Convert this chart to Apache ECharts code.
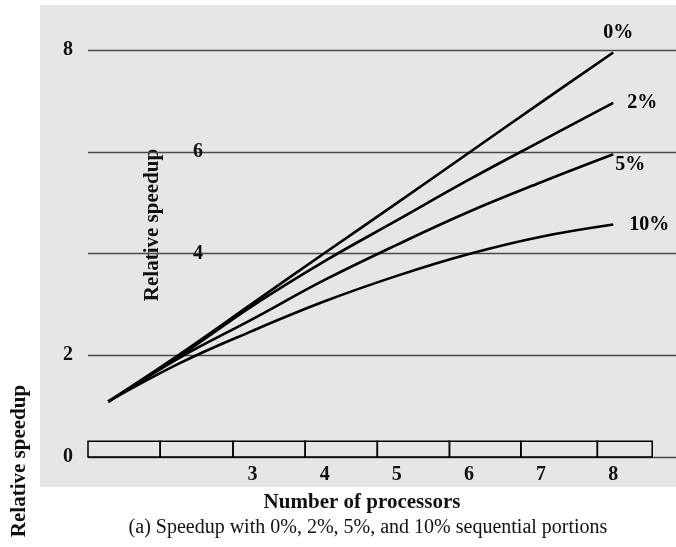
<!DOCTYPE html>
<html><head><meta charset="utf-8">
<script src="https://cdn.jsdelivr.net/npm/echarts@6/dist/echarts.min.js"></script>
<style>html,body{margin:0;padding:0;background:#fff}#c{width:676px;height:547px}</style>
</head><body><div id="c"></div>
<script>
// ---- data ----
const processors = [1, 2, 3, 4, 5, 6, 7, 8];
const xTickLabels = [3, 4, 5, 6, 7, 8];
const yTickLabelsOuter = [0, 2, 8];
const yTickLabelsInner = [4, 6];
const seriesNames = ['0%', '2%', '5%', '10%'];
const speedup0 = [1.09, 2.03, 3.02, 4.01, 4.99, 5.98, 6.97, 7.95];
const speedup2 = [1.09, 1.99, 2.97, 3.85, 4.65, 5.45, 6.21, 6.96];
const speedup5 = [1.09, 1.96, 2.71, 3.48, 4.17, 4.82, 5.40, 5.95];
const speedup10 = [1.09, 1.85, 2.48, 3.06, 3.56, 3.99, 4.33, 4.57];
const boxEdges = [0.72, 1.72, 2.73, 3.73, 4.73, 5.73, 6.72, 7.78, 8.54];
const boxTop = 0.31;
const yAxisTitle = 'Relative speedup';
const xAxisTitle = 'Number of processors';
const caption = '(a) Speedup with 0%, 2%, 5%, and 10% sequential portions';

// ---- chart ----
const FONT = '"Liberation Serif", "Times New Roman", serif';
const chart = echarts.init(document.getElementById('c'), null, {renderer: 'canvas'});
const allSeries = [speedup0, speedup2, speedup5, speedup10];
const labelPlace = [
  {align: 'center', distance: 5, offset: [0, -20]},
  {align: 'left', distance: 14, offset: [0, 0]},
  {align: 'left', distance: 2, offset: [0, 11]},
  {align: 'left', distance: 16, offset: [0, 0]}
];
const lineSeries = allSeries.map((arr, k) => ({
  name: seriesNames[k],
  type: 'line',
  data: processors.map((p, i) => [p, arr[i]]),
  showSymbol: false,
  smooth: 0.4,
  z: 3,
  lineStyle: {color: '#000', width: 2.6},
  endLabel: {
    show: true,
    formatter: seriesNames[k],
    color: '#000',
    fontFamily: FONT,
    fontWeight: 'bold',
    fontSize: 20,
    verticalAlign: 'middle',
    align: labelPlace[k].align,
    distance: labelPlace[k].distance,
    offset: labelPlace[k].offset
  }
}));
const cells = boxEdges.slice(0, -1).map((e, i) => [e, boxEdges[i + 1], boxTop]);
const boxSeries = {
  type: 'custom',
  data: cells,
  encode: {x: [0, 1], y: 2},
  clip: false,
  z: 4,
  renderItem: (params, api) => {
    const a = api.coord([api.value(0), api.value(2)]);
    const b = api.coord([api.value(1), 0]);
    return {type: 'rect', shape: {x: a[0], y: a[1], width: b[0] - a[0], height: b[1] - a[1]},
      style: {fill: 'none', stroke: '#000', lineWidth: 1.5}};
  }
};
const tickFont = {fontFamily: FONT, fontWeight: 'bold', fontSize: 20, color: '#111'};
chart.setOption({
  animation: false,
  backgroundColor: '#fff',
  graphic: [
    {type: 'rect', z: -100, shape: {x: 40, y: 5, width: 636, height: 482}, style: {fill: '#e6e6e6'}},
    {type: 'text', x: 20, y: 461, rotation: Math.PI / 2,
      style: {text: yAxisTitle, font: 'bold 21px ' + FONT, fill: '#111', align: 'center', verticalAlign: 'middle'}},
    {type: 'text', x: 153, y: 225, rotation: Math.PI / 2,
      style: {text: yAxisTitle, font: 'bold 21px ' + FONT, fill: '#111', align: 'center', verticalAlign: 'middle'}},
    {type: 'text', x: 362, y: 503,
      style: {text: xAxisTitle, font: 'bold 21px ' + FONT, fill: '#111', align: 'center', verticalAlign: 'middle'}},
    {type: 'text', x: 368, y: 528,
      style: {text: caption, font: '20px ' + FONT, fill: '#111', align: 'center', verticalAlign: 'middle'}}
  ],
  grid: {left: 88, right: 0, top: 50, bottom: 90, containLabel: false},
  xAxis: {
    type: 'value', min: 0.72, max: 8.87,
    axisLine: {show: false}, axisTick: {show: false}, splitLine: {show: false},
    axisLabel: Object.assign({customValues: xTickLabels, margin: 8}, tickFont)
  },
  yAxis: [
    {
      type: 'value', min: 0, max: 8, interval: 2, position: 'left',
      axisLine: {show: false}, axisTick: {show: false},
      splitLine: {show: true, lineStyle: {color: '#4a4a4a', width: 1.4}},
      axisLabel: Object.assign({customValues: yTickLabelsOuter, margin: 15}, tickFont)
    },
    {
      type: 'value', min: 0, max: 8, interval: 2, position: 'left', offset: 0,
      axisLine: {show: false}, axisTick: {show: false}, splitLine: {show: false},
      axisLabel: Object.assign({customValues: yTickLabelsInner, margin: -115, padding: [0, 0, 36, 0]}, tickFont)
    }
  ],
  series: lineSeries.concat([boxSeries])
});
</script></body></html>
